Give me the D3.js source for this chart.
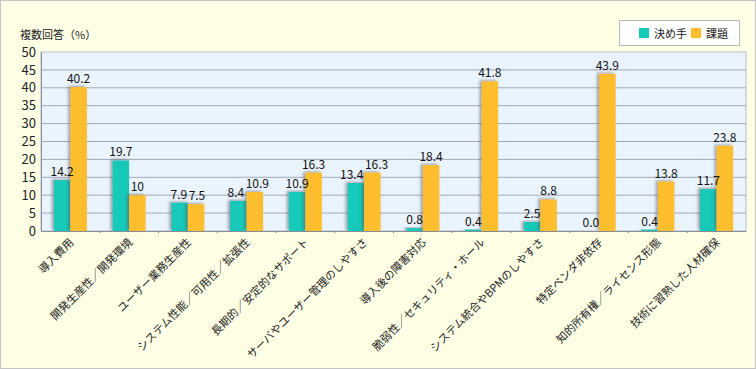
<!DOCTYPE html>
<html><head><meta charset="utf-8">
<script src="https://cdn.jsdelivr.net/npm/d3@7"></script>
<style>body{margin:0;background:#fff}svg{display:block}text{font-family:"Noto Sans CJK JP","Noto Sans",sans-serif;}</style>
</head><body>
<svg id="c" width="756" height="369"></svg>
<script>
const categories = ["導入費用","開発生産性／開発環境","ユーザー業務生産性","システム性能／可用性／拡張性","長期的／安定的なサポート","サーバやユーザー管理のしやすさ","導入後の障害対応","脆弱性／セキュリティ・ホール","システム統合やBPMのしやすさ","特定ベンダ非依存","知的所有権／ライセンス形態","技術に習熟した人材確保"];
const seriesNames = ["決め手","課題"];
const kimete = [14.2,19.7,7.9,8.4,10.9,13.4,0.8,0.4,2.5,0.0,0.4,11.7];
const kadai = [40.2,10,7.5,10.9,16.3,16.3,18.4,41.8,8.8,43.9,13.8,23.8];
const kimeteLabels = ["14.2","19.7","7.9","8.4","10.9","13.4","0.8","0.4","2.5","0.0","0.4","11.7"];
const kadaiLabels = ["40.2","10","7.5","10.9","16.3","16.3","18.4","41.8","8.8","43.9","13.8","23.8"];
const yTicks = [0,5,10,15,20,25,30,35,40,45,50];
const colors = ["#16C9B8","#FFBE2E"];

const svg = d3.select("#c");
const W=756,H=369;
const L=41,R=746,T=52,B=231;
svg.append("rect").attr("x",0.5).attr("y",0.5).attr("width",W-1).attr("height",H-1)
  .attr("fill","#FFFFE6").attr("stroke","#C4C4C4");
const defs = svg.append("defs");
const f = defs.append("filter").attr("id","sh").attr("x","-50%").attr("y","-20%").attr("width","200%").attr("height","140%");
f.append("feDropShadow").attr("dx",-2).attr("dy",-1).attr("stdDeviation",1.6).attr("flood-color","#555").attr("flood-opacity",0.55);

const x0 = d3.scaleBand().domain(categories).range([L,R]);
const x1 = d3.scaleBand().domain(seriesNames).range([0,33]);
const y = d3.scaleLinear().domain([0,50]).range([B,T]);

svg.append("rect").attr("x",L).attr("y",T).attr("width",R-L).attr("height",B-T)
  .attr("fill","#EAF4FF").attr("stroke","#B8BCC4");
svg.append("g").selectAll("line").data(yTicks.filter(d=>d>0&&d<50)).join("line")
  .attr("x1",L).attr("x2",R).attr("y1",d=>y(d)).attr("y2",d=>y(d))
  .attr("stroke","#A2A9B6").attr("stroke-width",1);

const yAxis = svg.append("g").attr("transform",`translate(${L},0)`)
  .call(d3.axisLeft(y).tickValues(yTicks).tickSize(0).tickPadding(5));
yAxis.select(".domain").attr("stroke","#8A909A");
yAxis.selectAll("text").attr("font-size",13).attr("fill","#222").attr("font-family","Liberation Sans, Arial, sans-serif");

const xAxis = svg.append("g").attr("transform",`translate(0,${B})`)
  .call(d3.axisBottom(x0).tickSize(0).tickFormat(""));
xAxis.select(".domain").attr("stroke","#8A909A");
svg.append("g").selectAll("line").data(categories.slice(1)).join("line")
  .attr("x1",d=>x0(d)).attr("x2",d=>x0(d)).attr("y1",B).attr("y2",B+2).attr("stroke","#8A909A");

const data = categories.map((c,i)=>({c, vals:[{s:seriesNames[0],v:kimete[i],l:kimeteLabels[i]},{s:seriesNames[1],v:kadai[i],l:kadaiLabels[i]}]}));
const off = (x0.bandwidth()-33)/2;
const g = svg.append("g").selectAll("g").data(data).join("g")
  .attr("transform",d=>`translate(${x0(d.c)+off},0)`);
g.selectAll("rect").data(d=>d.vals).join("rect")
  .attr("x",d=>x1(d.s)).attr("width",x1.bandwidth())
  .attr("y",d=>y(d.v)).attr("height",d=>B-y(d.v))
  .attr("fill",(d,i)=>colors[i]).attr("filter","url(#sh)");
g.each(function(){
  const texts = d3.select(this).selectAll("text").data(d=>d.vals).join("text")
    .attr("x",d=>x1(d.s)+x1.bandwidth()/2).attr("y",d=>y(d.v)-4)
    .attr("text-anchor","middle").attr("font-size",12).attr("fill","#111")
    .attr("font-family","Liberation Sans, Arial, sans-serif")
    .text(d=>d.l);
  const n = texts.nodes();
  const a = n[0], b = n[1];
  const ya = +a.getAttribute("y"), yb = +b.getAttribute("y");
  if (Math.abs(ya-yb) < 13) {
    const xa = +a.getAttribute("x"), xb = +b.getAttribute("x");
    const wa = a.getComputedTextLength(), wb = b.getComputedTextLength();
    const overlap = (xa+wa/2) - (xb-wb/2) + 1.5;
    if (overlap > 0) {
      a.setAttribute("x", xa - overlap/2);
      b.setAttribute("x", xb + overlap/2);
    }
  }
});

svg.append("g").selectAll("text").data(categories).join("text")
  .attr("transform",d=>`translate(${x0(d)+x0.bandwidth()/2+4},${B+12}) rotate(-45)`)
  .attr("text-anchor","end").attr("font-size",11).attr("fill","#222")
  .text(d=>d);

svg.append("text").attr("x",20).attr("y",39).attr("font-size",11).attr("fill","#222").text("複数回答（%）");

const lg = svg.append("g");
lg.append("rect").attr("x",619.5).attr("y",20.5).attr("width",120).attr("height",25).attr("fill","#fff").attr("stroke","#B8B8B8");
seriesNames.forEach((s,i)=>{
  const lx = [639,691][i];
  lg.append("rect").attr("x",lx).attr("y",28).attr("width",10).attr("height",10).attr("fill",colors[i]);
  lg.append("text").attr("x",lx+15).attr("y",37.5).attr("font-size",11).attr("fill","#222").text(s);
});
</script>
</body></html>
